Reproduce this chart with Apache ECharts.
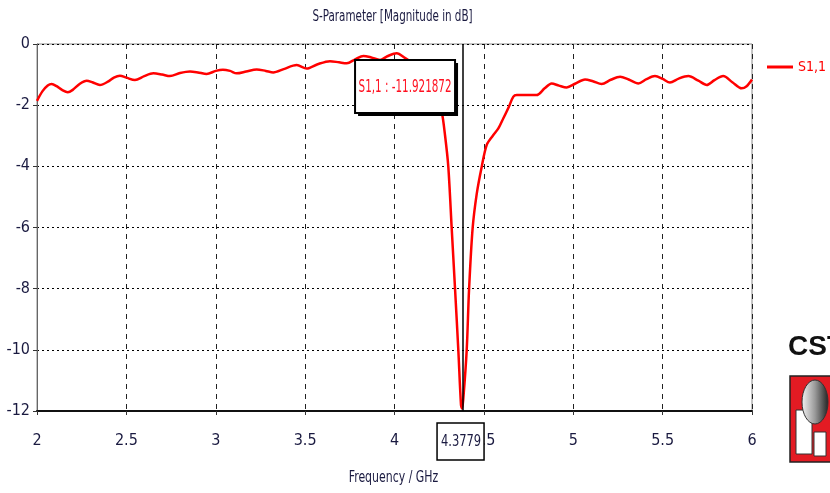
<!DOCTYPE html>
<html><head><meta charset="utf-8">
<script src="https://cdn.jsdelivr.net/npm/echarts@6/dist/echarts.min.js"></script>
<style>html,body{margin:0;padding:0;background:#fff}#c{width:830px;height:493px}</style>
</head><body><div id="c"></div>
<script>
var freq = [2.000,2.03,2.06,2.082,2.11,2.14,2.172,2.20,2.24,2.278,2.31,2.352,2.40,2.43,2.464,2.50,2.548,2.60,2.651,2.70,2.744,2.80,2.856,2.90,2.949,3.00,3.04,3.08,3.117,3.17,3.229,3.28,3.322,3.38,3.453,3.509,3.57,3.639,3.69,3.733,3.78,3.826,3.87,3.919,3.96,4.012,4.06,4.10,4.15,4.20,4.24,4.264,4.283,4.301,4.320,4.339,4.357,4.372,4.3779,4.385,4.404,4.417,4.437,4.46,4.488,4.516,4.55,4.581,4.609,4.64,4.665,4.684,4.74,4.795,4.84,4.879,4.92,4.963,5.01,5.066,5.11,5.159,5.21,5.262,5.31,5.364,5.41,5.457,5.50,5.541,5.59,5.644,5.70,5.747,5.79,5.839,5.89,5.942,5.97,6.0];
var s11 = [-1.86,-1.55,-1.36,-1.31,-1.38,-1.50,-1.58,-1.50,-1.30,-1.20,-1.25,-1.34,-1.22,-1.10,-1.04,-1.10,-1.18,-1.05,-0.96,-1.00,-1.05,-0.95,-0.90,-0.93,-0.98,-0.88,-0.84,-0.88,-0.96,-0.90,-0.83,-0.88,-0.93,-0.82,-0.69,-0.80,-0.66,-0.56,-0.60,-0.63,-0.50,-0.39,-0.44,-0.52,-0.40,-0.30,-0.46,-0.62,-0.90,-1.30,-1.80,-2.21,-3.0,-4.01,-6.03,-8.04,-10.0,-11.8,-11.92,-11.6,-10.0,-8.04,-6.03,-4.9,-4.01,-3.30,-3.0,-2.76,-2.43,-2.05,-1.72,-1.67,-1.67,-1.67,-1.45,-1.29,-1.36,-1.42,-1.30,-1.16,-1.22,-1.31,-1.17,-1.07,-1.16,-1.29,-1.15,-1.05,-1.14,-1.26,-1.13,-1.05,-1.20,-1.34,-1.18,-1.05,-1.25,-1.45,-1.38,-1.16];
var markerX = 4.3779;
var markerText = 'S1,1 : -11.921872';
var markerXText = '4.3779';
var titleText = 'S-Parameter [Magnitude in dB]';
var xName = 'Frequency / GHz';
var seriesName = 'S1,1';

var FONT = "'DejaVu Sans Condensed','Liberation Sans',sans-serif";
var LBL = '#1a1a40';
var data = freq.map(function(f,i){return [f, s11[i]];});
var chart = echarts.init(document.getElementById('c'), null, {renderer:'canvas'});
chart.setOption({
  animation:false,
  backgroundColor:'#fff',
  legend:{data:[{name:seriesName,icon:'rect'}],left:767,top:60,padding:0,itemWidth:26,itemHeight:3,itemGap:5,
    textStyle:{fontFamily:FONT,fontSize:14,color:'#ff0000'}},
  grid:{left:37,right:78,top:44,bottom:82,show:true,borderColor:'#888',borderWidth:1},
  xAxis:{type:'value',min:2,max:6,interval:0.5,
    axisLine:{show:true,onZero:false,lineStyle:{color:'#111',width:2}},
    axisTick:{show:true,length:8,inside:false,lineStyle:{color:'#333',type:[4,4]}},
    axisLabel:{fontFamily:FONT,fontSize:16,color:LBL,margin:22,formatter:function(v){return String(v);}},
    splitLine:{show:true,lineStyle:{color:'#222',type:[5,5],width:1}}},
  yAxis:{type:'value',min:-12,max:0,interval:2,
    axisLine:{show:true,onZero:false,lineStyle:{color:'#666',width:1}},
    axisTick:{show:true,length:4,lineStyle:{color:'#333'}},
    axisLabel:{fontFamily:FONT,fontSize:16,color:LBL,margin:7},
    splitLine:{show:true,lineStyle:{color:'#000',type:[2,3],width:1.2}}},
  series:[{name:seriesName,type:'line',data:data,showSymbol:false,smooth:0.3,
    lineStyle:{color:'#ff0000',width:2.5},itemStyle:{color:'#ff0000'},
    markLine:{silent:true,symbol:'none',label:{show:false},
      lineStyle:{color:'#000',type:'solid',width:1.5},data:[{xAxis:markerX}]}}]
});
var pTop = chart.convertToPixel({gridIndex:0},[markerX,0]);
var pBot = chart.convertToPixel({gridIndex:0},[markerX,-12]);
var pMid = chart.convertToPixel({gridIndex:0},[4,0]);
var lx = pTop[0], gTop = pTop[1], gBot = pBot[1], cx = pMid[0];
chart.setOption({graphic:[
  {type:'text',z:100,x:cx-2,y:17,scaleX:0.72,style:{text:titleText,fill:LBL,font:'16px '+FONT,align:'center',verticalAlign:'middle'}},
  {type:'text',z:100,x:cx-1,y:478,scaleX:0.76,style:{text:xName,fill:LBL,font:'16px '+FONT,align:'center',verticalAlign:'middle'}},
  {type:'rect',z:100,shape:{x:lx-104,y:gTop+19,width:100,height:53},style:{fill:'#000'}},
  {type:'rect',z:101,shape:{x:lx-107,y:gTop+16,width:100,height:53},style:{fill:'#fff',stroke:'#000',lineWidth:2}},
  {type:'text',z:102,x:lx-57,y:gTop+43,scaleX:0.64,style:{text:markerText,fill:'#ff1020',font:'18px '+FONT,align:'center',verticalAlign:'middle'}},
  {type:'rect',z:100,shape:{x:lx-25,y:gBot+12,width:47,height:37},style:{fill:'#fff',stroke:'#000',lineWidth:1.5}},
  {type:'text',z:101,x:lx-1,y:gBot+31,scaleX:0.8,style:{text:markerXText,fill:LBL,font:'16px '+FONT,align:'center',verticalAlign:'middle'}},
  {type:'text',z:100,x:788,y:333,style:{text:'CST',fill:'#111',font:'bold 28px Arial, Liberation Sans, sans-serif'}},
  {type:'rect',z:100,shape:{x:790,y:376,width:50,height:86},style:{fill:'#e31b23',stroke:'#222',lineWidth:1.5}},
  {type:'rect',z:101,shape:{x:796,y:410,width:16,height:44},style:{fill:'#fff',stroke:'#333',lineWidth:1}},
  {type:'ellipse',z:102,shape:{cx:815,cy:402,rx:13,ry:22},style:{stroke:'#333',lineWidth:1,
    fill:new echarts.graphic.LinearGradient(0,0,1,0,[{offset:0,color:'#f4f4f4'},{offset:0.5,color:'#9a9a9a'},{offset:1,color:'#222'}])}},
  {type:'rect',z:103,shape:{x:814,y:432,width:12,height:24},style:{fill:'#fff',stroke:'#333',lineWidth:1}}
]});
</script></body></html>
